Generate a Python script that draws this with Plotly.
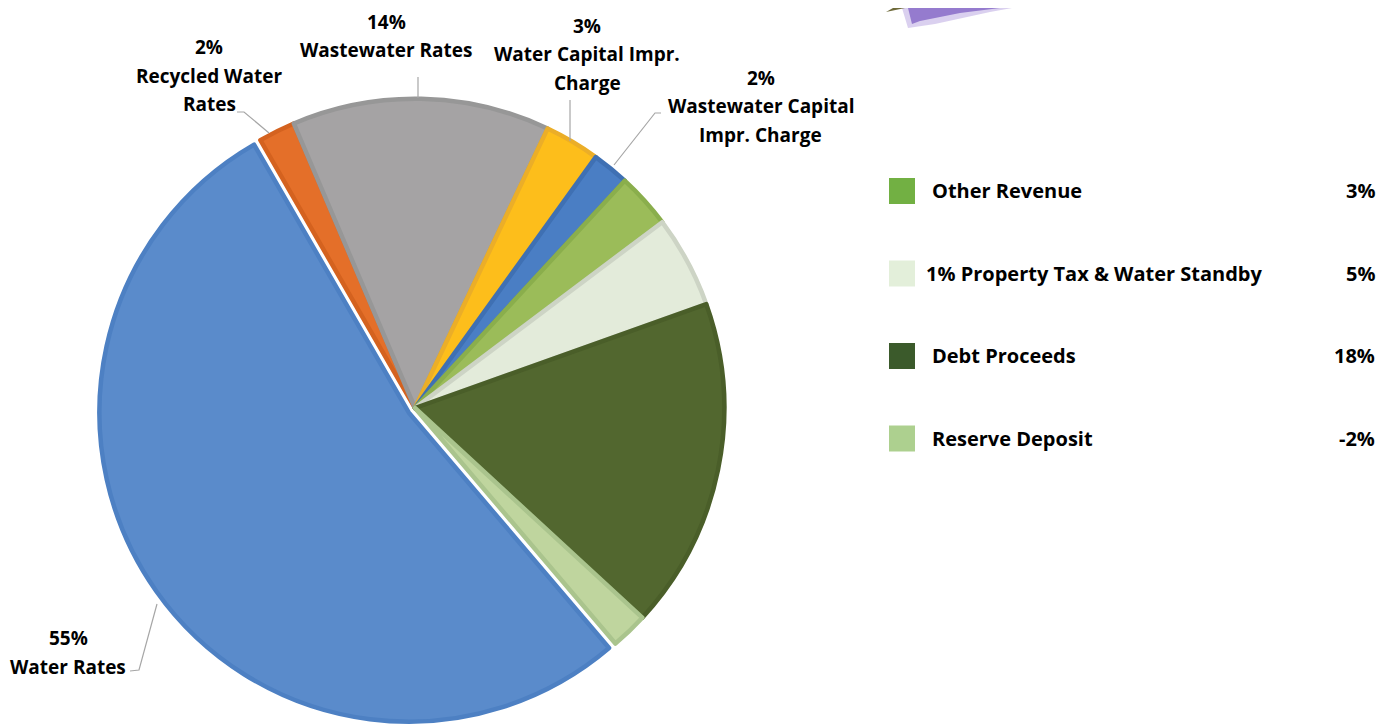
import plotly.graph_objects as go

W, H = 1391, 725
OFF = 8                      # page body margin around the plot div
FW, FH = W - 2 * OFF, H - OFF

# slices, clockwise starting from the orange "Recycled Water Rates" slice
labels = ["Recycled Water Rates", "Wastewater Rates", "Water Capital Impr. Charge",
          "Wastewater Capital Impr. Charge", "Other Revenue", "1% Property Tax & Water Standby",
          "Debt Proceeds", "Reserve Deposit", "Water Rates"]
values = [2, 14, 3, 2, 3, 5, 18, 2, 55]
slice_colors = ["#E46F29", "#A5A3A4", "#FDBE1B", "#4A7EC4", "#9BBC59",
                "#E3EBDA", "#52672F", "#BFD59E", "#5A8BCB"]
edge_colors = ["#D4621F", "#979797", "#EBAE28", "#3F70B3", "#8AAE4C",
               "#CDD4C5", "#4A5E29", "#AAC48D", "#4D80C3"]
pulls = [0, 0, 0, 0, 0, 0, 0, 0, 0.025]

# callouts drawn next to the pie (line by line)
callout_lines = [["2%", "Recycled Water", "Rates"],
                 ["14%", "Wastewater Rates"],
                 ["3%", "Water Capital Impr.", "Charge"],
                 ["2%", "Wastewater Capital", "Impr. Charge"],
                 ["55%", "Water Rates"]]

# legend on the right
legend_labels = ["Other Revenue", "1% Property Tax & Water Standby", "Debt Proceeds", "Reserve Deposit"]
legend_pcts = ["3%", "5%", "18%", "-2%"]
legend_colors = ["#72B043", "#E3EFDA", "#3B5A2B", "#ADD08F"]


def px(x, y):
    # page pixels -> paper coords
    return (x - OFF) / FW, 1 - (y - OFF) / FH


def path(points, close=False):
    s = ""
    for i, (x, y) in enumerate(points):
        xp, yp = px(x, y)
        s += ("M" if i == 0 else "L") + f"{xp:.5f},{yp:.5f} "
    return s + ("Z" if close else "")


dx0, dy1 = px(97.5, 91)
dx1, dy0 = px(732.5, 725)

fig = go.Figure()
fig.add_trace(go.Pie(labels=labels, values=values, sort=False, direction="clockwise",
                     rotation=-30, pull=pulls, textinfo="none", showlegend=False,
                     hoverinfo="label+percent",
                     marker=dict(colors=slice_colors, line=dict(color=edge_colors, width=4.5)),
                     domain=dict(x=[dx0, dx1], y=[max(dy0, 0), dy1])))

font = dict(family="Open Sans", size=19, color="black")
lfont = dict(family="Open Sans", size=20, color="black")
annotations = []
callout_pos = [(209, 47), (386, 22), (587, 26), (761, 78), (68, 638)]
for lines, (cx, cy) in zip(callout_lines, callout_pos):
    for k, line in enumerate(lines):
        x, y = px(cx, cy + k * 28.5)
        annotations.append(dict(text="<b>" + line + "</b>", x=x, y=y, xref="paper", yref="paper",
                                xanchor="center", yanchor="middle", showarrow=False, font=font))

leaders = [[(237, 112), (244, 112), (269, 133)],
           [(418, 77), (418, 98)],
           [(570, 100), (570, 141)],
           [(661, 113), (655, 113), (614, 165)],
           [(130, 671), (139, 670), (157, 604)]]
shapes = [dict(type="path", path=path(p), xref="paper", yref="paper",
               line=dict(color="#A6A6A6", width=1.2)) for p in leaders]

for i, (lab, pct, col) in enumerate(zip(legend_labels, legend_pcts, legend_colors)):
    yc = 191 + i * 82.5
    x0, y0 = px(889, yc - 13)
    x1, y1 = px(915, yc + 13)
    shapes.append(dict(type="rect", x0=x0, x1=x1, y0=y0, y1=y1, xref="paper", yref="paper",
                       fillcolor=col, line=dict(width=0)))
    x, y = px(930 if i != 1 else 924, yc)
    annotations.append(dict(text="<b>" + lab + "</b>", x=x, y=y, xref="paper", yref="paper",
                            xanchor="left", yanchor="middle", showarrow=False, font=lfont))
    x, y = px(1377, yc)
    annotations.append(dict(text="<b>" + pct + "</b>", x=x, y=y, xref="paper", yref="paper",
                            xanchor="right", yanchor="middle", showarrow=False, font=lfont))

# purple decoration cut off at the top
shapes.append(dict(type="path", path=path([(902, 8), (1012, 8), (990, 12), (935, 24), (908, 28)], True),
                   xref="paper", yref="paper", fillcolor="rgba(150,120,210,0.35)", line=dict(width=0)))
shapes.append(dict(type="path", path=path([(908, 8), (1000, 8), (960, 13), (920, 21), (912, 24)], True),
                   xref="paper", yref="paper", fillcolor="rgba(125,95,195,0.75)", line=dict(width=0)))
shapes.append(dict(type="path", path=path([(886, 12), (893, 8), (905, 8)], True),
                   xref="paper", yref="paper", fillcolor="#6E6A3A", line=dict(width=0)))

fig.update_layout(width=FW, height=FH, margin=dict(l=0, r=0, t=0, b=0),
                  paper_bgcolor="white", plot_bgcolor="white",
                  annotations=annotations, shapes=shapes)

fig.write_html("out.html")
